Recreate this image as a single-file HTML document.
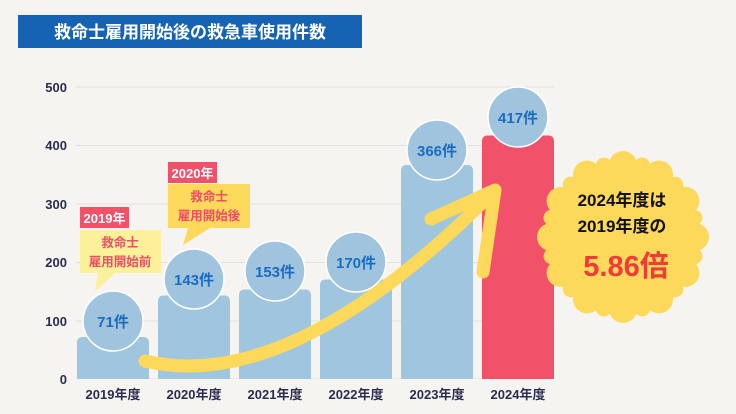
<!DOCTYPE html><html><head><meta charset="utf-8"><style>
body{margin:0;width:736px;height:414px;background:#f6f4f1;overflow:hidden;font-family:"Liberation Sans","Noto Sans CJK JP",sans-serif}
</style></head><body>
<svg width="736" height="414" xmlns="http://www.w3.org/2000/svg" style="position:absolute;left:0;top:0;font-family:'Liberation Sans','Noto Sans CJK JP',sans-serif">
<rect x="18" y="15" width="344" height="33" fill="#1663b3"/>
<text x="190" y="38" fill="#fff" font-size="17" font-weight="bold" text-anchor="middle">救命士雇用開始後の救急車使用件数</text>
<g stroke="#e2e0dc" stroke-width="1">
<line x1="76" x2="555" y1="87" y2="87"/><line x1="76" x2="555" y1="145.5" y2="145.5"/><line x1="76" x2="555" y1="204" y2="204"/><line x1="76" x2="555" y1="262.5" y2="262.5"/><line x1="76" x2="555" y1="321" y2="321"/><line x1="76" x2="555" y1="379" y2="379"/></g>
<g fill="#2a2d4f" font-size="13" font-weight="bold" text-anchor="end">
<text x="67" y="92">500</text><text x="67" y="150">400</text><text x="67" y="209">300</text><text x="67" y="267">200</text><text x="67" y="326">100</text><text x="67" y="384">0</text></g>
<g fill="#9fc5df">
<rect x="77" y="337" width="72" height="46" rx="5"/>
<rect x="158" y="295.5" width="72" height="88" rx="5"/>
<rect x="239" y="289.5" width="72" height="94" rx="5"/>
<rect x="320" y="279.5" width="72" height="104" rx="5"/>
<rect x="401" y="165" width="72" height="218" rx="5"/>
</g>
<rect x="482" y="135.5" width="72" height="248" rx="5" fill="#f2516a"/>
<rect x="70" y="379" width="490" height="35" fill="#f6f4f1"/>
<g fill="#a0c4de" stroke="#fff" stroke-width="1.5">
<circle cx="113" cy="321" r="30"/><circle cx="194" cy="279" r="30"/><circle cx="275" cy="271" r="30"/><circle cx="356" cy="262" r="30"/><circle cx="437" cy="150" r="30"/><circle cx="518" cy="117" r="30"/></g>
<g fill="#1a6cc2" font-size="15" font-weight="bold" text-anchor="middle">
<text x="113" y="327">71件</text><text x="194" y="285">143件</text><text x="275" y="277">153件</text><text x="356" y="268">170件</text><text x="437" y="156">366件</text><text x="518" y="123">417件</text></g>
<g fill="#2a2d4f" font-size="13" font-weight="bold" text-anchor="middle">
<text x="113" y="399">2019年度</text><text x="194" y="399">2020年度</text><text x="275" y="399">2021年度</text><text x="356" y="399">2022年度</text><text x="437" y="399">2023年度</text><text x="518" y="399">2024年度</text></g>
<g fill="none" stroke="#fcd95a" stroke-width="13" stroke-linecap="round" stroke-linejoin="round">
<path d="M145 361 Q290 395 490 195"/>
<path d="M431 219 L495 190 L483 272"/>
</g>
<polygon points="80,230 161,230 161,273 115,273 95,292 98,273 80,273" fill="#fbf19a"/>
<rect x="80" y="207" width="49" height="21" fill="#f2516a"/>
<text x="104.5" y="223" fill="#fff" font-size="13" font-weight="bold" text-anchor="middle">2019年</text>
<g fill="#ee4d66" font-size="12.5" font-weight="bold" text-anchor="middle"><text x="120" y="247">救命士</text><text x="120" y="266">雇用開始前</text></g>
<polygon points="168,184 250,184 250,228 210,228 183,245 188,228 168,228" fill="#fcd95a"/>
<rect x="168" y="162" width="49" height="21" fill="#f2516a"/>
<text x="192.5" y="178" fill="#fff" font-size="13" font-weight="bold" text-anchor="middle">2020年</text>
<g fill="#ee4d66" font-size="12.5" font-weight="bold" text-anchor="middle"><text x="209" y="201">救命士</text><text x="209" y="220">雇用開始後</text></g>
<g fill="#fcd95a" transform="translate(623,237)"><circle r="72"/>
<g id="bm"><circle cx="0" cy="-72" r="14"/><circle cx="36" cy="-62.4" r="14"/><circle cx="62.4" cy="-36" r="14"/><circle cx="72" cy="0" r="14"/><circle cx="62.4" cy="36" r="14"/><circle cx="36" cy="62.4" r="14"/><circle cx="0" cy="72" r="14"/><circle cx="-36" cy="62.4" r="14"/><circle cx="-62.4" cy="36" r="14"/><circle cx="-72" cy="0" r="14"/><circle cx="-62.4" cy="-36" r="14"/><circle cx="-36" cy="-62.4" r="14"/></g>
<g transform="rotate(15)"><circle cx="0" cy="-74" r="8"/><circle cx="37" cy="-64" r="8"/><circle cx="64" cy="-37" r="8"/><circle cx="74" cy="0" r="8"/><circle cx="64" cy="37" r="8"/><circle cx="37" cy="64" r="8"/><circle cx="0" cy="74" r="8"/><circle cx="-37" cy="64" r="8"/><circle cx="-64" cy="37" r="8"/><circle cx="-74" cy="0" r="8"/><circle cx="-64" cy="-37" r="8"/><circle cx="-37" cy="-64" r="8"/></g></g>
<g fill="#111" font-size="17" font-weight="bold" text-anchor="middle"><text x="622" y="206">2024年度は</text><text x="622" y="232">2019年度の</text></g>
<text x="626" y="276" fill="#f13b3b" font-size="29" font-weight="bold" text-anchor="middle">5.86倍</text>
</svg>
</body></html>
